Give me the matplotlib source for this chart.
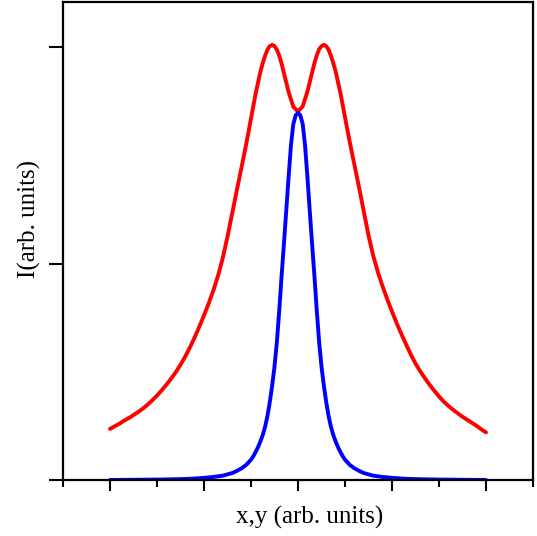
import matplotlib
matplotlib.use("Agg")
import matplotlib.pyplot as plt
from matplotlib.ticker import MultipleLocator

# red: broad double-peaked profile
RED_X = [-4.0, -3.9, -3.8, -3.7, -3.6, -3.5, -3.4, -3.3, -3.2, -3.1,
         -3.0, -2.9, -2.8, -2.7, -2.6, -2.5, -2.4, -2.3, -2.2, -2.1,
         -2.0, -1.9, -1.8, -1.7, -1.6, -1.5, -1.4, -1.3, -1.2, -1.1,
         -1.0, -0.9, -0.8, -0.75, -0.7, -0.65, -0.6, -0.55, -0.5, -0.45,
         -0.4, -0.35, -0.3, -0.2, -0.1, 0.0,
         0.1, 0.2, 0.3, 0.35, 0.4, 0.45, 0.5, 0.55, 0.6, 0.65,
         0.7, 0.75, 0.8, 0.9, 1.0, 1.1, 1.2, 1.3, 1.4, 1.5,
         1.6, 1.7, 1.8, 1.9, 2.0, 2.1, 2.2, 2.3, 2.4, 2.5,
         2.6, 2.7, 2.8, 2.9, 3.0, 3.1, 3.2, 3.3, 3.4, 3.5,
         3.6, 3.7, 3.8, 3.9, 4.0]
RED_Y = [0.118, 0.124, 0.130, 0.137, 0.143, 0.150, 0.157, 0.165, 0.174, 0.184,
         0.195, 0.207, 0.220, 0.234, 0.249, 0.266, 0.285, 0.306, 0.329, 0.354,
         0.380, 0.408, 0.438, 0.472, 0.513, 0.562, 0.616, 0.670, 0.723, 0.777,
         0.835, 0.893, 0.943, 0.963, 0.980, 0.994, 1.002, 1.005, 1.002, 0.994,
         0.980, 0.962, 0.940, 0.896, 0.862, 0.851,
         0.863, 0.897, 0.941, 0.963, 0.981, 0.995, 1.002, 1.005, 1.002, 0.994,
         0.980, 0.963, 0.944, 0.895, 0.838, 0.781, 0.728, 0.675, 0.620, 0.565,
         0.518, 0.480, 0.447, 0.417, 0.389, 0.362, 0.337, 0.313, 0.290, 0.269,
         0.251, 0.235, 0.220, 0.206, 0.193, 0.181, 0.171, 0.162, 0.154, 0.146,
         0.139, 0.132, 0.125, 0.117, 0.110]

# blue: narrow single peak
BLUE_X = [-4.0, -3.5, -3.0, -2.5, -2.25, -2.0, -1.8, -1.6, -1.5, -1.4,
          -1.3, -1.2, -1.1, -1.0, -0.95, -0.9, -0.85, -0.8, -0.75, -0.7,
          -0.65, -0.6, -0.55, -0.5, -0.45, -0.4, -0.35, -0.3, -0.25, -0.2,
          -0.15, -0.1, -0.05, 0.0,
          0.05, 0.1, 0.15, 0.2, 0.25, 0.3, 0.35, 0.4, 0.45, 0.5,
          0.55, 0.6, 0.65, 0.7, 0.75, 0.8, 0.85, 0.9, 0.95, 1.0,
          1.1, 1.2, 1.3, 1.4, 1.5, 1.6, 1.8, 2.0, 2.25, 2.5,
          3.0, 3.5, 4.0]
BLUE_Y = [0.0, 0.0005, 0.001, 0.002, 0.003, 0.005, 0.007, 0.010, 0.013, 0.016,
          0.021, 0.027, 0.035, 0.047, 0.055, 0.065, 0.076, 0.089, 0.104, 0.123,
          0.148, 0.180, 0.218, 0.262, 0.318, 0.390, 0.470, 0.545, 0.622, 0.700,
          0.773, 0.822, 0.842, 0.848,
          0.842, 0.822, 0.773, 0.700, 0.622, 0.545, 0.470, 0.390, 0.318, 0.262,
          0.218, 0.180, 0.148, 0.123, 0.104, 0.089, 0.076, 0.065, 0.055, 0.047,
          0.035, 0.027, 0.021, 0.016, 0.013, 0.010, 0.007, 0.005, 0.003, 0.002,
          0.001, 0.0005, 0.0]

plt.rcParams["font.family"] = ["Liberation Serif", "DejaVu Serif"]

fig = plt.figure(figsize=(5.37, 5.36), dpi=100)
ax = fig.add_axes([0.1173, 0.1045, 0.8753, 0.8918])

ax.plot(RED_X, RED_Y, color="#ff0000", lw=2.8, solid_capstyle="round",
        solid_joinstyle="round")
ax.plot(BLUE_X, BLUE_Y, color="#0000ff", lw=2.8, solid_capstyle="round",
        solid_joinstyle="round")

ax.set_xlim(-5, 5)
ax.set_ylim(0, 1.104)
ax.xaxis.set_major_locator(MultipleLocator(2))
ax.xaxis.set_minor_locator(MultipleLocator(1))
ax.yaxis.set_major_locator(MultipleLocator(0.5))
ax.tick_params(which="major", length=8, width=1.5, direction="out",
               labelbottom=False, labelleft=False)
ax.tick_params(which="minor", length=5, width=1.5, direction="out")
ax.tick_params(axis="y", which="major", length=10)
for s in ax.spines.values():
    s.set_linewidth(1.6)

ax.set_xlabel("x,y (arb. units)", fontsize=18)
ax.set_ylabel("I(arb. units)", fontsize=18)
ax.xaxis.set_label_coords(0.525, -0.055)
ax.yaxis.set_label_coords(-0.047, 0.546)

fig.savefig("out.png", dpi=100)
